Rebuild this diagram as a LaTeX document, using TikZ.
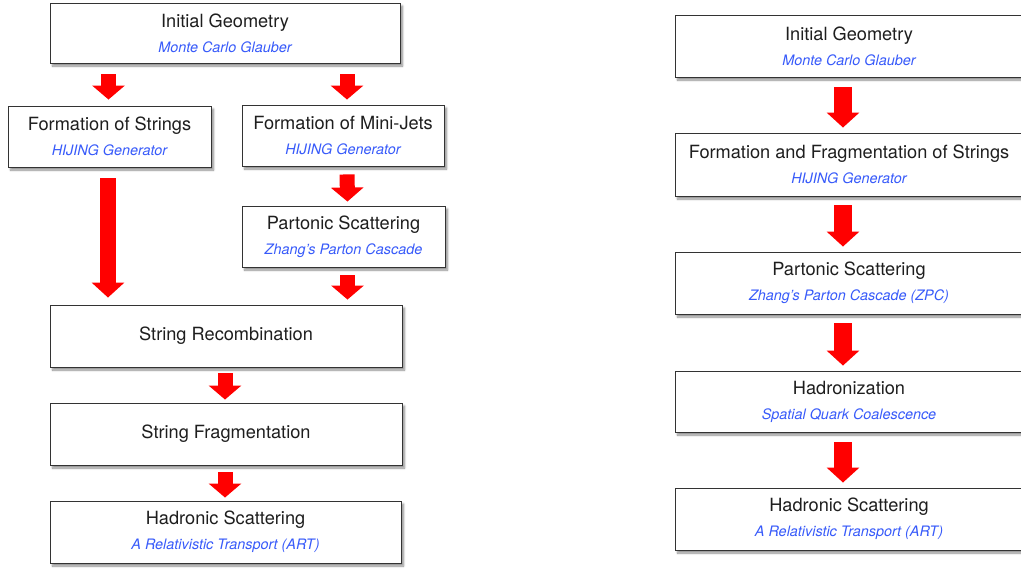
\documentclass[tikz,border=0pt]{standalone}
\usepackage{fontspec}
\setmainfont{TeX Gyre Heros}
\usetikzlibrary{arrows.meta,calc,shadows.blur}
\definecolor{subblue}{RGB}{55,90,250}
\definecolor{txtgray}{RGB}{30,30,30}
\newcommand{\sbt}[1]{{\fontsize{14.4}{25}\selectfont\itshape\color{subblue}#1}}
\begin{document}
\begin{tikzpicture}[x=1pt,y=-1pt,
  box/.style={draw=black!80, line width=0.9pt, fill=white, rectangle, align=center,
    text=txtgray, inner sep=0pt, font=\fontsize{18.2}{25}\selectfont,
    blur shadow={shadow xshift=2.5pt, shadow yshift=-3pt, shadow blur steps=6, shadow opacity=45}},
  arrL/.style={draw=red, line width=15pt, -{Triangle[width=32pt,length=14pt]}},
  arrR/.style={draw=red, line width=18pt, -{Triangle[width=32pt,length=15pt]}},
  arrB/.style={draw=red, line width=16pt, -{Triangle[width=32pt,length=15pt]}},
]
\useasboundingbox (0,0) rectangle (1021,570);

% left column
\node[box, minimum width=350pt, minimum height=60pt] (ig) at (225,33) {Initial Geometry\\\sbt{Monte Carlo Glauber}};
\node[box, minimum width=203pt, minimum height=61pt] (fs) at (109.5,136.5) {Formation of Strings\\\sbt{HIJING Generator}};
\node[box, minimum width=202pt, minimum height=61pt] (mj) at (343,135.5) {Formation of Mini-Jets\\\sbt{HIJING Generator}};
\node[box, minimum width=203pt, minimum height=61pt] (ps) at (343.5,236.5) {Partonic Scattering\\\sbt{Zhang’s Parton Cascade}};
\node[box, minimum width=352pt, minimum height=62pt] (sr) at (226,336) {String Recombination};
\node[box, minimum width=352pt, minimum height=62pt] (sf) at (226,434) {String Fragmentation};
\node[box, minimum width=351pt, minimum height=62pt] (hs) at (225.5,532) {Hadronic Scattering\\\sbt{A Relativistic Transport (ART)}};

% right column
\node[box, minimum width=348pt, minimum height=62pt] (ig2) at (849,46) {Initial Geometry\\\sbt{Monte Carlo Glauber}};
\node[box, minimum width=348pt, minimum height=63pt] (ff) at (849,164.5) {Formation and Fragmentation of Strings\\\sbt{HIJING Generator}};
\node[box, minimum width=348pt, minimum height=62pt] (ps2) at (849,283) {Partonic Scattering\\\sbt{Zhang’s Parton Cascade (ZPC)}};
\node[box, minimum width=348pt, minimum height=61pt] (hd) at (849,401.5) {Hadronization\\\sbt{Spatial Quark Coalescence}};
\node[box, minimum width=348pt, minimum height=62pt] (hs2) at (849,519) {Hadronic Scattering\\\sbt{A Relativistic Transport (ART)}};

% left arrows
\draw[arrL, shorten <=11pt, shorten >=6pt] ($(fs.north |- ig.south)+(-1,0)$) -- ($(fs.north)+(-1,0)$);
\draw[arrL, shorten <=11pt, shorten >=5pt] ($(mj.north |- ig.south)+(4,0)$) -- ($(mj.north)+(4,0)$);
\draw[arrL, shorten <=8pt, shorten >=4pt] ($(mj.south)+(4,0)$) -- ($(ps.north)+(4,0)$);
\draw[arrB, shorten <=11pt, shorten >=7pt] ($(fs.south)+(-1.5,0)$) -- ($(fs.south |- sr.north)+(-1.5,0)$);
\draw[arrL, shorten <=8pt, shorten >=5pt] ($(ps.south)+(4,0)$) -- ($(ps.south |- sr.north)+(4,0)$);
\draw[arrL, shorten <=6pt, shorten >=3pt] ($(sr.south)+(-1,0)$) -- ($(sf.north)+(-1,0)$);
\draw[arrL, shorten <=7pt, shorten >=3pt] ($(sf.south)+(-1,0)$) -- ($(hs.north)+(-0.5,0)$);

% right arrows
\draw[arrR, shorten <=10pt, shorten >=5pt] ($(ig2.south)+(-6,0)$) -- ($(ff.north)+(-6,0)$);
\draw[arrR, shorten <=9pt, shorten >=5pt] ($(ff.south)+(-6,0)$) -- ($(ps2.north)+(-6,0)$);
\draw[arrR, shorten <=9pt, shorten >=5pt] ($(ps2.south)+(-6,0)$) -- ($(hd.north)+(-6,0)$);
\draw[arrR, shorten <=10pt, shorten >=5pt] ($(hd.south)+(-6,0)$) -- ($(hs2.north)+(-6,0)$);
\end{tikzpicture}
\end{document}
